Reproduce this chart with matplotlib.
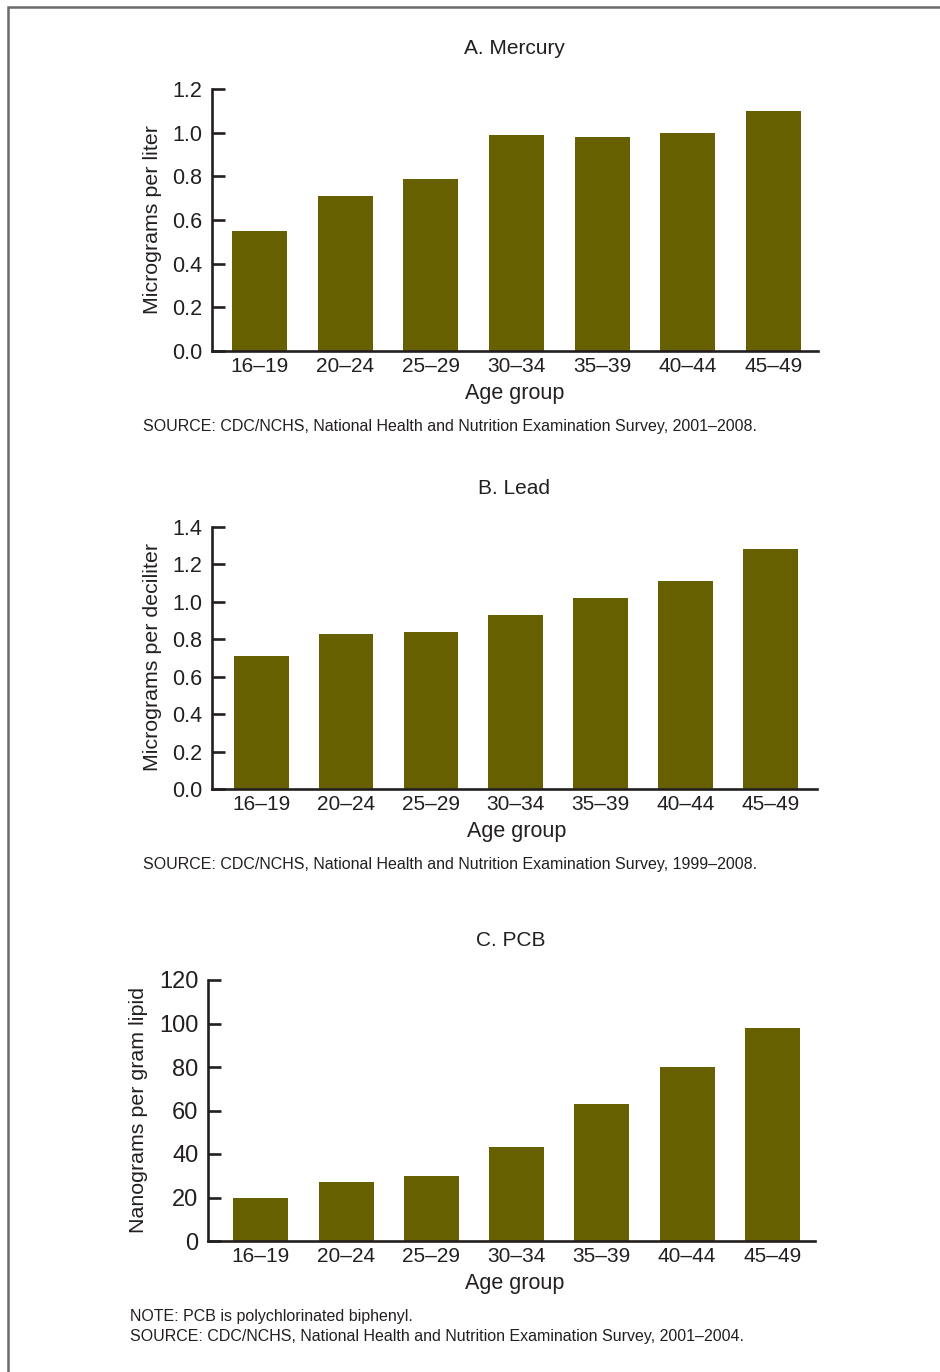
import matplotlib.pyplot as plt
import matplotlib.patches as mpatches
import numpy as np

plt.rcParams['font.family'] = ['Liberation Sans', 'DejaVu Sans']

W, H = 940, 1372
BAR = '#666000'
INK = '#231f20'

age_groups = ['16–19', '20–24', '25–29', '30–34', '35–39', '40–44', '45–49']

mercury = [0.55, 0.71, 0.79, 0.99, 0.98, 1.00, 1.10]
lead = [0.71, 0.83, 0.84, 0.93, 1.02, 1.11, 1.28]
pcb = [20, 27, 30, 43, 63, 80, 98]

mercury_ticks = [0.0, 0.2, 0.4, 0.6, 0.8, 1.0, 1.2]
lead_ticks = [0.0, 0.2, 0.4, 0.6, 0.8, 1.0, 1.2, 1.4]
pcb_ticks = [0, 20, 40, 60, 80, 100, 120]


def fx(px):
    return px / W


def fy(py):
    return 1 - py / H


def panel(fig, box, values, ticks, fmt, xlim, tick_size):
    left, top, right, bottom = box
    ax = fig.add_axes([fx(left), fy(bottom), fx(right) - fx(left), fy(top) - fy(bottom)])
    x = np.arange(len(age_groups))
    ax.bar(x, values, width=0.645, color=BAR, zorder=2)
    ax.set_xlim(*xlim)
    ax.set_ylim(ticks[0], ticks[-1])
    ax.set_yticks(ticks)
    ax.set_yticklabels([fmt.format(t) for t in ticks])
    ax.set_xticks(x)
    ax.set_xticklabels(age_groups)
    for s in ['top', 'right']:
        ax.spines[s].set_visible(False)
    for s in ['left', 'bottom']:
        ax.spines[s].set_linewidth(1.9)
        ax.spines[s].set_color(INK)
        ax.spines[s].set_capstyle('projecting')
    ax.tick_params(axis='y', direction='in', length=9.5, width=1.9, color=INK,
                   labelsize=tick_size, labelcolor=INK, pad=7)
    ax.tick_params(axis='x', length=0, labelsize=15, labelcolor=INK, pad=4)
    return ax


fig = plt.figure(figsize=(W / 100, H / 100), dpi=100)

# partial frame along top and left edges
fig.patches.append(mpatches.Rectangle((fx(8), fy(1500)), 2, fy(7) - fy(1500),
                                      transform=fig.transFigure, fill=False,
                                      edgecolor='#6b6b6b', linewidth=1.8, clip_on=False))

# A. Mercury
panel(fig, (212, 89, 818, 351), mercury, mercury_ticks, '{:.1f}', (-0.555, 6.52), 15.5)
fig.text(fx(514), fy(49), 'A. Mercury', ha='center', va='center', fontsize=15, color=INK)
fig.text(fx(152), fy(220), 'Micrograms per liter', rotation=90, ha='center', va='center',
         fontsize=15.4, color=INK)
fig.text(fx(515), fy(393), 'Age group', ha='center', va='center', fontsize=15.5, color=INK)
fig.text(fx(143), fy(426), 'SOURCE: CDC/NCHS, National Health and Nutrition Examination Survey, 2001–2008.',
         ha='left', va='center', fontsize=11.5, color=INK)

# B. Lead
panel(fig, (212, 527, 817, 789), lead, lead_ticks, '{:.1f}', (-0.58, 6.55), 15.5)
fig.text(fx(514), fy(488), 'B. Lead', ha='center', va='center', fontsize=15, color=INK)
fig.text(fx(152), fy(657), 'Micrograms per deciliter', rotation=90, ha='center', va='center',
         fontsize=15.4, color=INK)
fig.text(fx(517), fy(832), 'Age group', ha='center', va='center', fontsize=15.5, color=INK)
fig.text(fx(143), fy(864), 'SOURCE: CDC/NCHS, National Health and Nutrition Examination Survey, 1999–2008.',
         ha='left', va='center', fontsize=11.5, color=INK)

# C. PCB
panel(fig, (208, 980, 815, 1241), pcb, pcb_ticks, '{:d}', (-0.62, 6.5), 17)
fig.text(fx(511), fy(941), 'C. PCB', ha='center', va='center', fontsize=15, color=INK)
fig.text(fx(139), fy(1110), 'Nanograms per gram lipid', rotation=90, ha='center', va='center',
         fontsize=15.4, color=INK)
fig.text(fx(515), fy(1284), 'Age group', ha='center', va='center', fontsize=15.5, color=INK)
fig.text(fx(130), fy(1317), 'NOTE: PCB is polychlorinated biphenyl.',
         ha='left', va='center', fontsize=11.5, color=INK)
fig.text(fx(130), fy(1336), 'SOURCE: CDC/NCHS, National Health and Nutrition Examination Survey, 2001–2004.',
         ha='left', va='center', fontsize=11.5, color=INK)

fig.savefig('out.png', dpi=100)
